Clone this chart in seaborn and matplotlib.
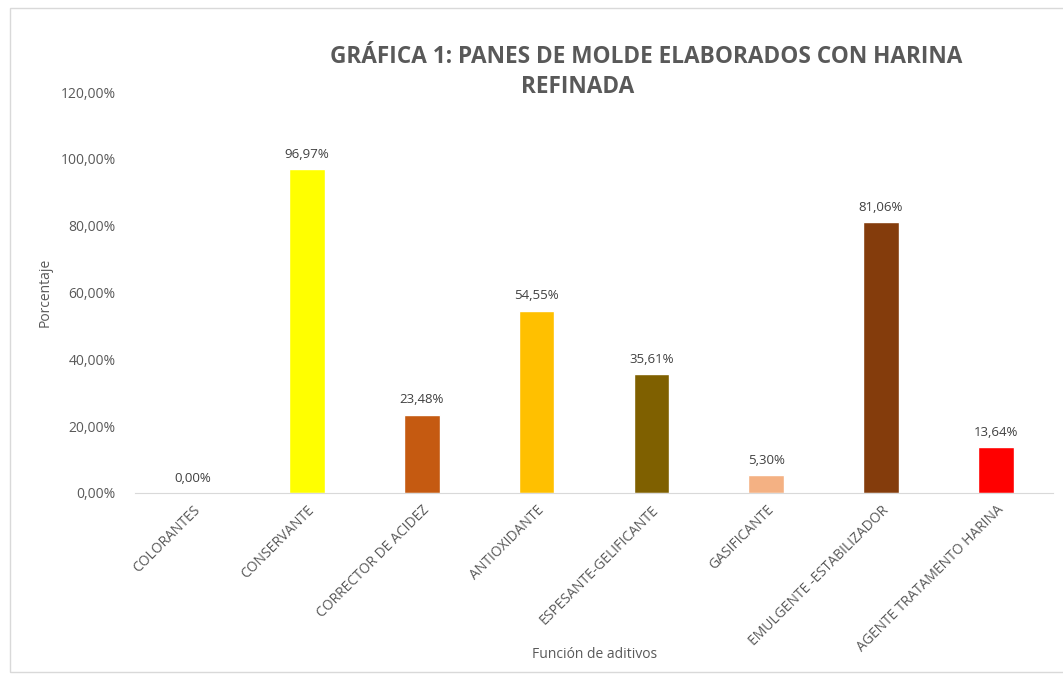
import pandas as pd
import matplotlib.pyplot as plt
import seaborn as sns
from matplotlib.patches import Rectangle
from matplotlib.ticker import FuncFormatter

# Chart data
categories = ['COLORANTES', 'CONSERVANTE', 'CORRECTOR DE ACIDEZ', 'ANTIOXIDANTE',
              'ESPESANTE-GELIFICANTE', 'GASIFICANTE', 'EMULGENTE -ESTABILIZADOR',
              'AGENTE TRATAMENTO HARINA']
values = [0.00, 96.97, 23.48, 54.55, 35.61, 5.30, 81.06, 13.64]
bar_colors = ['#A5A5A5', '#FFFF00', '#C55A11', '#FFC000', '#7F6000',
              '#F4B183', '#843C0C', '#FF0000']
y_ticks = [0, 20, 40, 60, 80, 100, 120]

df = pd.DataFrame({'funcion': categories, 'pct': values})

sns.set_style('white')
plt.rcParams['font.family'] = ['Open Sans', 'DejaVu Sans']
text_gray = '#595959'

fig = plt.figure(figsize=(10.63, 6.79), dpi=100)
ax = fig.add_axes([0.127, 0.274, 0.8637, 0.5905])

sns.barplot(data=df, x='funcion', y='pct', hue='funcion', palette=bar_colors,
            legend=False, width=0.31, saturation=1, ax=ax)

ax.set_ylim(0, 120)
ax.set_xlim(-0.5, len(categories) - 0.5)
ax.set_yticks(y_ticks)
ax.yaxis.set_major_formatter(FuncFormatter(lambda v, p: f'{v:.2f}%'.replace('.', ',')))
ax.tick_params(axis='y', length=0, pad=14, labelsize=10, labelcolor=text_gray)
ax.tick_params(axis='x', length=0, pad=7, labelsize=10, labelcolor=text_gray)
plt.setp(ax.get_xticklabels(), rotation=45, ha='right', rotation_mode='anchor')

for side in ['top', 'right', 'left']:
    ax.spines[side].set_visible(False)
ax.spines['bottom'].set_color('#D9D9D9')

# value labels
for i, v in enumerate(values):
    ax.annotate(f'{v:.2f}%'.replace('.', ','), (i, v), xytext=(0, 6),
                textcoords='offset points', ha='center', va='bottom',
                fontsize=9.5, color='#404040')

ax.set_xlabel('')
ax.set_ylabel('')
fig.text(595 / 1063, 1 - 655 / 679, 'Función de aditivos', ha='center', va='center',
         fontsize=10, color=text_gray)
fig.text(45 / 1063, 1 - 292 / 679, 'Porcentaje', ha='center', va='center',
         rotation=90, fontsize=10, color=text_gray)

# title (two lines as in the original)
fig.text(646 / 1063, 1 - 57 / 679, 'GRÁFICA 1: PANES DE MOLDE ELABORADOS CON HARINA',
         ha='center', va='center', fontsize=16.3, fontweight='bold', color=text_gray)
fig.text(578 / 1063, 1 - 87 / 679, 'REFINADA',
         ha='center', va='center', fontsize=16.3, fontweight='bold', color=text_gray)

# chart frame
fig.patches.append(Rectangle((10 / 1063, 1 - 672 / 679), 1.0, 664 / 679,
                             transform=fig.transFigure, fill=False,
                             edgecolor='#D9D9D9', linewidth=1))

fig.savefig('out.png', dpi=100)
